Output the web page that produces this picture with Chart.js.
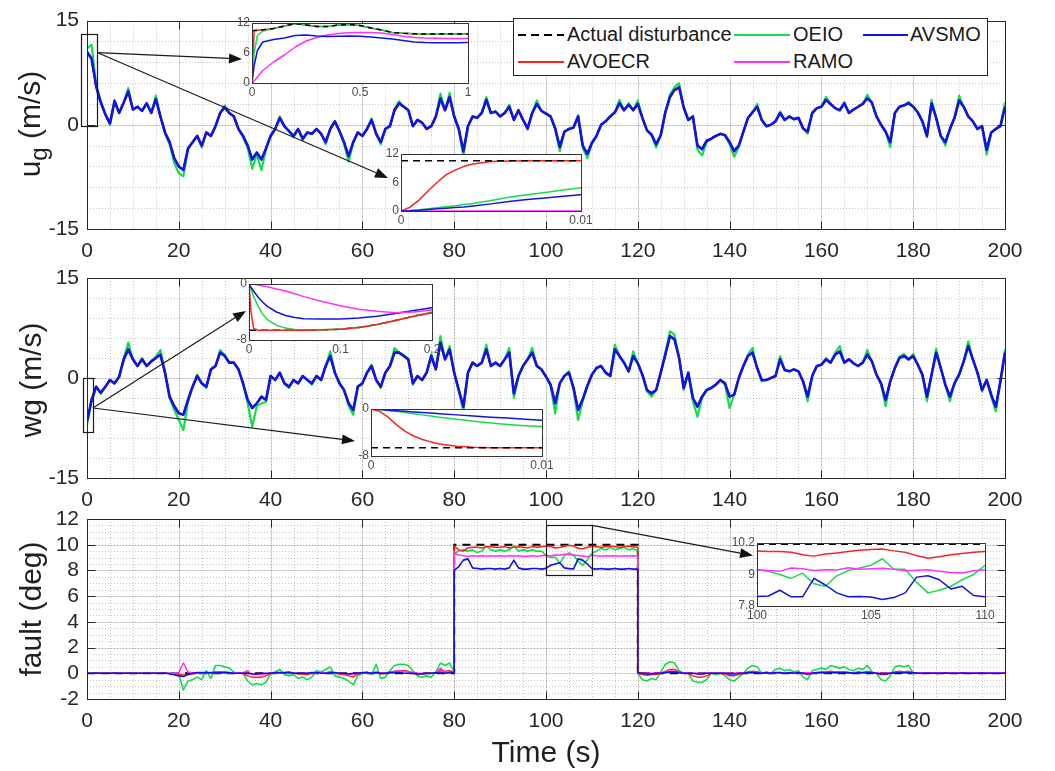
<!DOCTYPE html>
<html>
<head>
<meta charset="utf-8">
<script src="https://cdn.jsdelivr.net/npm/chart.js@4.4.0/dist/chart.umd.min.js"></script>
<style>
  html, body { margin: 0; padding: 0; background: #fff; }
  #page { position: relative; width: 1055px; height: 771px; overflow: hidden;
          font-family: "Liberation Sans", Arial, Helvetica, sans-serif; color: #1f1f1f; }
  #page canvas { position: absolute; left: 0; top: 0; }
  .title { position: absolute; width: 240px; height: 36px; line-height: 36px; text-align: center;
           font-size: 30px; white-space: nowrap; }
  .title.rot { transform: rotate(-90deg); }
  .title sub { font-size: 24px; vertical-align: -7px; line-height: 0; }
  #legend { position: absolute; left: 513px; top: 18px; width: 473px; height: 56px;
            border: 1px solid #262626; background: #fff; }
  #legend .sw { position: absolute; height: 2px; }
  #legend .lbl { position: absolute; font-size: 20px; line-height: 24px; white-space: nowrap; color: #1a1a1a; }
</style>
</head>
<body>
<div id="page">
  <canvas id="cUg" width="1055" height="771"></canvas>
  <canvas id="cWg" width="1055" height="771"></canvas>
  <canvas id="cFault" width="1055" height="771"></canvas>
  <canvas id="cUgZoom" width="1055" height="771"></canvas>
  <canvas id="cUgStart" width="1055" height="771"></canvas>
  <canvas id="cWgZoom" width="1055" height="771"></canvas>
  <canvas id="cWgStart" width="1055" height="771"></canvas>
  <canvas id="cFaultZoom" width="1055" height="771"></canvas>
  <canvas id="overlay" width="1055" height="771"></canvas>

  <div class="title rot" style="left:-90px; top:106px;">u<sub>g</sub> (m/s)</div>
  <div class="title rot" style="left:-89px; top:362px;">wg (m/s)</div>
  <div class="title rot" style="left:-89px; top:591px;">fault (deg)</div>
  <div class="title" style="left:426px; top:734px;">Time (s)</div>

  <div id="legend">
    <div class="sw" style="left:4px; top:15px; width:46px; background:repeating-linear-gradient(to right,#000 0 8px,transparent 8px 13px);"></div>
    <div class="lbl" style="left:53px; top:3px;">Actual disturbance</div>
    <div class="sw" style="left:220px; top:15px; width:56px; background:#17dc4a;"></div>
    <div class="lbl" style="left:279px; top:3px;">OEIO</div>
    <div class="sw" style="left:349px; top:15px; width:45px; background:#1212e6;"></div>
    <div class="lbl" style="left:396px; top:3px;">AVSMO</div>
    <div class="sw" style="left:4px; top:42px; width:46px; background:#ff2020;"></div>
    <div class="lbl" style="left:53px; top:30px;">AVOECR</div>
    <div class="sw" style="left:220px; top:42px; width:56px; background:#ff30ff;"></div>
    <div class="lbl" style="left:279px; top:30px;">RAMO</div>
  </div>
</div>

<script>
// ---------------- data ----------------
const timeTicks = [0, 20, 40, 60, 80, 100, 120, 140, 160, 180, 200];
const windTicks = [-15, 0, 15];
const faultTicks = [-2, 0, 2, 4, 6, 8, 10, 12];

// main time grid, one sample per second (0..200 s)
const mainTime = Array.from({ length: 201 }, (_, i) => i);

// u_g: disturbance (the observers follow it closely at this scale)
const ugActual = [
  10.5, 9.5, 5.5, 3.2, 1.5, 0.2, 3.4, 1.7, 3.2, 4.8,
  2.2, 2.6, 2.0, 3.1, 1.7, 3.7, 1.2, -1.1, -2.5, -4.8,
  -6.0, -6.5, -3.4, -2.5, -1.6, -3.0, -1.1, -1.6, -0.2, 1.7,
  2.5, 1.7, 1.2, -0.6, -1.6, -3.0, -5.0, -4.0, -5.0, -3.4,
  -1.6, -0.6, 1.0, -0.2, -0.9, -1.6, -0.6, -2.0, -1.1, -1.3,
  -0.6, -1.3, -2.5, -0.6, 0.5, -0.9, -2.5, -4.5, -2.5, -1.1,
  -1.6, -0.6, 0.7, -1.3, -2.5, -0.6, -0.2, 2.1, 3.1, 2.6,
  2.1, -0.2, 0.7, 0.3, -0.6, -0.2, 1.2, 3.8, 2.1, 4.0,
  1.2, -0.6, -3.8, -0.2, 1.2, 1.0, 1.7, 3.6, 1.7, 1.9,
  1.2, 1.7, 2.6, 0.7, 2.1, 0.7, -0.5, 1.7, 3.0, 2.0,
  1.6, 1.2, -0.5, -3.2, -1.0, -0.6, -0.4, 1.2, -3.0, -4.2,
  -2.6, -1.6, 0.0, 0.5, 1.2, 1.8, 3.1, 2.1, 2.9, 2.1,
  3.0, 1.0, -0.8, -1.4, -2.8, -1.5, 1.8, 4.0, 5.0, 5.4,
  2.5, 0.7, 1.2, -3.0, -3.5, -2.3, -2.0, -1.6, -1.3, -1.5,
  -2.5, -3.8, -3.0, -1.0, 1.0, 1.8, 2.6, 0.7, -0.2, 0.0,
  0.5, 1.7, 0.7, 1.2, 0.8, 1.0, -0.5, -1.0, 1.7, 2.4,
  2.6, 3.6, 3.0, 2.4, 2.1, 3.1, 1.7, 2.2, 2.6, 3.0,
  3.8, 3.2, 1.2, 0.0, -1.0, -2.5, 1.7, 2.6, 2.8, 3.1,
  2.6, 1.8, 0.5, -1.6, 3.1, 1.0, -1.6, -2.5, -0.6, 1.0,
  3.5, 2.6, 1.2, 0.5, -0.6, -0.2, -3.6, -1.1, -0.6, -0.2,
  2.6
];
// u_g: OEIO estimate (overshoots at the peaks)
const ugOeio = [
  11.0, 11.5, 5.8, 3.4, 1.5, 0.0, 3.6, 1.7, 3.2, 5.3,
  2.2, 2.6, 2.0, 3.1, 1.7, 4.2, 1.2, -1.3, -2.8, -5.5,
  -7.0, -7.4, -3.6, -2.5, -1.6, -3.3, -1.1, -1.6, -0.2, 1.7,
  2.8, 1.7, 1.2, -0.6, -1.8, -3.3, -6.3, -4.3, -6.5, -3.6,
  -1.6, -0.6, 1.2, -0.2, -0.9, -1.8, -0.6, -2.2, -1.1, -1.3,
  -0.6, -1.3, -2.8, -0.6, 0.5, -0.9, -2.8, -5.3, -2.6, -1.1,
  -1.6, -0.6, 0.9, -1.3, -2.8, -0.6, -0.2, 2.3, 3.4, 2.6,
  2.1, -0.2, 0.7, 0.3, -0.6, -0.2, 1.2, 4.5, 2.1, 4.6,
  1.2, -0.8, -4.5, -0.2, 1.2, 1.0, 1.7, 4.0, 1.7, 1.9,
  1.2, 1.7, 2.9, 0.7, 2.1, 0.7, -0.7, 1.7, 3.5, 2.0,
  1.6, 1.2, -0.7, -3.8, -1.0, -0.6, -0.4, 1.4, -3.3, -4.8,
  -2.8, -1.6, 0.0, 0.5, 1.2, 1.8, 3.6, 2.1, 3.1, 2.1,
  3.5, 1.0, -0.8, -1.6, -3.3, -1.5, 1.8, 4.3, 5.4, 6.0,
  2.5, 0.7, 1.2, -3.6, -4.4, -2.5, -2.0, -1.6, -1.3, -1.5,
  -2.8, -4.6, -3.2, -1.0, 1.0, 1.8, 3.0, 0.7, -0.2, 0.0,
  0.5, 1.9, 0.7, 1.2, 0.8, 1.0, -0.5, -1.3, 1.7, 2.4,
  2.6, 4.0, 3.0, 2.4, 2.1, 3.3, 1.7, 2.2, 2.6, 3.0,
  4.3, 3.2, 1.2, 0.0, -1.0, -3.2, 1.7, 2.6, 2.8, 3.3,
  2.6, 1.8, 0.5, -1.8, 3.6, 1.0, -1.6, -3.0, -0.6, 1.0,
  4.2, 2.6, 1.2, 0.5, -0.6, -0.2, -4.3, -1.1, -0.6, -0.2,
  3.2
];

// wg: disturbance
const wgActual = [
  -6.5, -3.3, -1.3, -2.2, -1.3, -0.3, -0.8, 0.2, 2.8, 4.3,
  2.8, 1.8, 2.8, 1.8, 2.5, 3.0, 3.5, 0.8, -2.8, -4.2,
  -5.3, -5.5, -3.3, -1.3, 0.3, -0.8, -1.3, 1.3, 1.8, 3.8,
  3.3, 2.3, 2.3, 1.3, -0.8, -3.3, -4.5, -3.8, -2.8, -3.3,
  0.3, -0.3, 0.8, -0.8, -1.3, -0.3, -0.8, 0.3, -0.3, -0.8,
  0.3, -0.3, 1.8, 3.3, 0.8, -0.8, -1.8, -3.8, -4.8, -1.3,
  -0.8, 0.8, 1.8, -0.3, -1.3, 0.8, 1.8, 3.8, 3.8, 3.3,
  2.8, -0.8, 0.3, -0.3, 0.8, 3.3, 1.3, 5.3, 2.8, 4.3,
  0.8, -1.8, -4.3, 0.8, 2.3, 1.8, 2.3, 4.3, 1.8, 2.3,
  1.8, 2.8, 3.8, -2.3, 0.3, 1.8, 2.8, 3.8, 1.8, 1.3,
  0.2, -1.0, -3.8, -0.8, 0.3, 0.8, -1.5, -4.8, -3.2, -1.2,
  0.5, 1.5, 1.8, 0.8, 0.3, 4.3, 3.3, 2.3, 1.0, 3.3,
  2.2, 0.5, -1.8, -2.3, -1.8, 0.8, 3.5, 6.3, 5.8, 3.0,
  -1.5, 0.8, -3.0, -4.3, -2.8, -1.8, -1.5, -1.0, -0.3, -0.8,
  -2.8, -2.5, 0.0, 1.8, 3.3, 3.8, 1.5, -0.3, -0.3, 0.0,
  0.3, 2.8, 1.2, 1.0, 1.3, 1.0, -0.5, -2.8, 0.3, 1.8,
  2.0, 2.8, 2.3, 3.5, 4.0, 2.3, 2.8, 2.2, 1.8, 2.3,
  3.5, 2.5, 0.5, -0.8, -3.3, -0.5, 1.5, 3.0, 3.3, 2.8,
  3.3, 2.0, 0.5, -2.8, 0.5, 3.8, 1.5, -1.0, -2.8, -0.8,
  0.5, 2.5, 4.8, 2.8, 0.8, -1.8, -0.3, -2.5, -4.3, -0.5,
  3.8
];
// wg: OEIO estimate
const wgOeio = [
  -7.0, -3.5, -1.3, -2.4, -1.3, -0.3, -0.8, 0.2, 3.0, 5.3,
  2.8, 1.8, 3.0, 1.8, 2.5, 3.2, 4.2, 0.8, -3.0, -4.8,
  -6.3, -7.8, -3.6, -1.3, 0.5, -0.8, -1.5, 1.3, 1.8, 4.2,
  3.5, 2.3, 2.3, 1.3, -0.8, -3.8, -7.3, -4.2, -3.8, -3.6,
  0.3, -0.3, 0.8, -0.8, -1.5, -0.3, -0.8, 0.3, -0.3, -1.0,
  0.3, -0.3, 1.8, 4.0, 0.8, -0.8, -1.8, -4.2, -5.5, -1.3,
  -0.8, 0.8, 2.0, -0.3, -1.5, 0.8, 1.8, 4.5, 3.8, 3.5,
  2.8, -1.0, 0.3, -0.3, 0.8, 3.6, 1.3, 6.3, 2.8, 4.8,
  0.8, -2.0, -5.0, 0.8, 2.3, 1.8, 2.3, 5.0, 1.8, 2.3,
  1.8, 2.8, 4.5, -3.0, 0.3, 1.8, 2.8, 4.5, 1.8, 1.3,
  0.2, -1.2, -5.3, -0.8, 0.3, 1.0, -1.8, -6.3, -3.5, -1.2,
  0.5, 1.5, 1.8, 0.8, 0.3, 5.0, 3.3, 2.3, 1.0, 4.0,
  2.2, 0.5, -2.0, -2.8, -1.8, 0.8, 3.8, 7.0, 6.5, 3.0,
  -1.8, 0.8, -3.5, -5.8, -3.0, -1.8, -1.5, -1.0, -0.3, -1.0,
  -4.5, -2.5, 0.0, 1.8, 3.5, 4.5, 1.5, -0.5, -0.3, 0.0,
  0.3, 3.3, 1.2, 1.0, 1.3, 1.0, -0.5, -3.5, 0.3, 1.8,
  2.0, 3.0, 2.3, 3.8, 4.8, 2.3, 2.8, 2.2, 1.8, 2.3,
  4.2, 2.5, 0.5, -1.0, -4.2, -0.5, 1.5, 3.2, 3.6, 2.8,
  3.6, 2.0, 0.5, -3.5, 0.5, 4.4, 1.5, -1.0, -3.5, -0.8,
  0.5, 2.5, 5.5, 2.8, 0.8, -2.0, -0.3, -2.8, -5.0, -0.5,
  4.3
];

// fault: three segments 0-80 s, 80-120 s, 120-200 s (the steps are vertical)
const faultSegments = [[0, 80], [80, 120], [120, 200]];
const faultActual = [
  0,0,0,0,0,0,0,0,0,0, 0,0,0,0,0,0,0,0,0,0, 0,0,0,0,0,0,0,0,0,0, 0,0,0,0,0,0,0,0,0,0,
  0,0,0,0,0,0,0,0,0,0, 0,0,0,0,0,0,0,0,0,0, 0,0,0,0,0,0,0,0,0,0, 0,0,0,0,0,0,0,0,0,0, 0,
  10,10,10,10,10,10,10,10,10,10, 10,10,10,10,10,10,10,10,10,10, 10,10,10,10,10,10,10,10,10,10,
  10,10,10,10,10,10,10,10,10,10, 10,
  0,0,0,0,0,0,0,0,0,0, 0,0,0,0,0,0,0,0,0,0, 0,0,0,0,0,0,0,0,0,0, 0,0,0,0,0,0,0,0,0,0,
  0,0,0,0,0,0,0,0,0,0, 0,0,0,0,0,0,0,0,0,0, 0,0,0,0,0,0,0,0,0,0, 0,0,0,0,0,0,0,0,0,0, 0
];
const faultOeio = [
  0,0,0,0,0,0,0,0,0,0, 0,0,0,0,0,0,0,0,0,0,
  -0.1,-1.3,-0.6,-0.5,-0.3,-0.5,0.2,-0.4,0.6,0.6,
  0.5,0.4,0.1,0,0,-0.6,-0.9,-0.8,-0.9,-0.7,
  0,0.1,0.3,-0.1,-0.2,-0.1,-0.4,-0.3,-0.5,-0.3,
  0.2,0.1,0.3,0.5,-0.2,-0.3,-0.4,-0.6,-0.9,-0.2,
  0,0.1,-0.1,0.7,-0.4,-0.3,0.2,0.6,0.7,0.7,
  0.6,0.2,-0.2,-0.3,-0.2,-0.3,0.1,0.8,0.6,0.8,
  0.1,
  9.3,9.5,9.6,9.5,9.6,9.4,9.5,9.9,9.6,9.5,
  9.6,9.5,9.6,9.9,9.5,9.6,9.5,9.6,9.5,9.5,
  9.18,9.0,9.05,8.55,9.15,9.35,9.2,8.7,8.4,8.8,
  9.35,9.5,9.7,9.6,9.8,9.6,9.7,9.8,9.6,9.7,
  9.5,
  0,-0.5,-0.6,-0.4,-0.5,0.1,0.7,0.9,0.8,0.2,
  0,0,-0.6,-0.7,-0.7,-0.5,0,-0.1,0,-0.2,
  -0.5,-0.6,-0.3,0,0.4,0.6,0.5,0,0.1,0,
  0.3,0.4,0.2,0.3,0.1,0.2,-0.3,-0.5,0.2,0.3,
  0.4,0.3,0.6,0.5,0.4,0.5,0.3,0.2,0.4,0.3,
  0.6,0.1,0,-0.5,-0.6,-0.2,0.5,0.6,0.5,0.6,
  0,0,0,0,0,0,0,0,0,0, 0,0,0,0,0,0,0,0,0,0,
  0
];
const faultAvsmo = [
  0,0,0.02,0,0,0,0.02,0,0,0,
  0,0,0,0.02,0,0,0,0.02,-0.05,-0.12,
  -0.2,-0.25,-0.1,0,0.05,0.05,0.05,0.05,0.05,0.05,
  0.05,0.05,0,0,0,0,-0.05,-0.05,0,0,
  0,0.05,0.05,0.05,0.1,0,0,0,0,0.05,
  0.05,0,0,0.05,0.05,0,0,-0.05,0,0,
  0.05,0.05,0,0.05,0,0,0.05,0.05,0.05,0,
  0,0,-0.05,-0.05,0,0,0.05,0,0,0.05,
  0.05,
  8.0,8.3,8.8,8.9,8.2,8.15,8.1,8.15,8.15,8.1,
  8.15,8.1,8.2,8.8,8.2,8.1,8.1,8.15,8.15,8.1,
  8.16,8.4,8.5,8.6,8.2,8.14,8.12,8.9,8.8,8.5,
  8.15,8.1,8.15,8.1,8.1,8.15,8.1,8.1,8.15,8.1,
  8.1,
  0.05,0,-0.05,-0.05,0,0,0.05,0.1,0.1,0.05,
  0,0,0,-0.05,-0.05,0,0,0,0,0,
  -0.05,-0.05,0,0,0.05,0.05,0.05,0,0.05,0,
  0.05,0.05,0,0.05,0,0.05,0,-0.05,0,0.05,
  0.05,0.05,0.05,0.05,0.05,0.05,0.05,0,0.05,0.05,
  0.05,0.05,0,-0.05,-0.05,0,0.05,0.05,0.05,0.05,
  0.05,0,0,0.02,0,0,0,0.02,0,0,
  0,0.02,0,0,0,0.02,0,0,0,0,
  0
];
const faultAvoecr = [
  0,0,0,0,0,0,0,0,0,0,
  0,0,0,0,0,0,0,0,0,-0.05,
  -0.1,-0.15,-0.1,-0.05,0,0,0.05,0,0.1,0.1,
  0.1,0.05,0,0,0,-0.2,-0.3,-0.3,-0.3,-0.2,
  0,0,0.05,0,0,0,-0.05,-0.05,-0.1,0,
  0.05,0.05,0.05,0.1,0,-0.05,-0.1,-0.2,-0.3,-0.05,
  0,0,0,0.1,-0.05,0,0.05,0.15,0.2,0.2,
  0.15,0.05,-0.05,-0.05,0,0,0,0.2,0.15,0.2,
  0.1,
  9.9,9.6,9.5,9.75,9.8,9.8,9.75,9.85,9.85,9.8,
  9.8,9.85,9.75,9.8,9.85,9.8,9.75,9.85,9.8,9.85,
  9.88,9.88,9.75,9.78,9.88,9.95,9.9,9.72,9.68,9.8,
  9.88,9.85,9.8,9.85,9.9,9.85,9.8,9.85,9.9,9.85,
  9.8,
  0,-0.1,-0.15,-0.1,-0.1,0,0.15,0.3,0.3,0.1,
  0,0,-0.2,-0.3,-0.3,-0.2,0,0,0,-0.05,
  -0.2,-0.2,-0.1,0,0.1,0.15,0.1,0,0,0,
  0.05,0.05,0,0.05,0,0.05,0,-0.1,0,0.05,
  0.1,0.1,0.15,0.1,0.1,0.1,0.05,0.05,0.1,0.05,
  0.15,0.05,0,-0.1,-0.1,0,0.1,0.15,0.1,0.15,
  0,0,0,0,0,0,0,0,0,0, 0,0,0,0,0,0,0,0,0,0,
  0
];
const faultRamo = [
  0,0,0,0,0,0,0,0,0,0, 0,0,0,0,0,0,0,0,0,0,
  0.05,0.8,0.1,0.05,0.05,0.05,0.05,0.05,0.05,0.05,
  0.05,0.05,0.05,0.05,0.05,0.2,-0.1,-0.1,-0.1,-0.05,
  0.05,0.05,0.05,0.05,0.05,0.05,0,0,0,0.05,
  0.05,0.05,0.05,0.05,0.05,0,0,-0.05,-0.1,0,
  0.05,0.05,0.05,0.05,0.05,0.05,0.1,0.15,0.15,0.15,
  0.1,0.05,0,0,0,0,0.05,0.4,0.1,0.1,
  0.1,
  9.3,9.2,9.15,9.1,9.15,9.1,9.15,9.1,9.15,9.1,
  9.15,9.1,9.15,9.1,9.15,9.1,9.1,9.15,9.1,9.15,
  9.18,9.12,9.22,9.18,9.26,9.22,9.2,9.16,9.12,9.06,
  9.18,9.15,9.1,9.15,9.12,9.15,9.1,9.15,9.12,9.15,
  9.1,
  0.05,0,0,0,0.05,0.05,0.1,0.15,0.15,0.1,
  0.05,0.05,0,0,0,0,0.05,0.05,0.05,0.05,
  0,0,0.05,0.05,0.05,0.1,0.1,0.05,0.05,0.05,
  0.05,0.05,0.05,0.05,0.05,0.05,0.05,0.05,0.05,0.05,
  0.05,0.05,0.1,0.1,0.05,0.1,0.05,0.05,0.05,0.05,
  0.1,0.05,0.05,0,0,0.05,0.05,0.1,0.1,0.1,
  0.05,0.05,0.05,0.05,0.05,0.05,0.05,0.05,0.05,0.05,
  0.05,0.05,0.05,0.05,0.05,0.05,0.05,0.05,0.05,0.05,
  0.05
];

// zoom 1: u_g, 0-1 s
const ugZoomT = [0, 0.01, 0.025, 0.05, 0.1, 0.15, 0.2, 0.25, 0.3, 0.35, 0.4, 0.45, 0.5, 0.55, 0.6, 0.65, 0.7, 0.75, 0.8, 0.85, 0.9, 0.95, 1];
const ugZoomXTicks = [0, 0.5, 1];
const ugZoomYTicks = [0, 6, 12];
const ugZoomActual = [10.5, 10.5, 10.55, 10.65, 10.9, 11.4, 11.9, 11.6, 11.3, 11.3, 11.6, 11.7, 11.5, 11.0, 10.6, 10.1, 9.95, 9.85, 9.8, 9.8, 9.85, 9.8, 9.8];
const ugZoomOeio   = [0, 6.0, 9.5, 10.4, 10.9, 11.4, 11.85, 11.6, 11.3, 11.3, 11.6, 11.7, 11.5, 11.0, 10.6, 10.1, 9.95, 9.85, 9.8, 9.8, 9.85, 9.8, 9.8];
const ugZoomAvoecr = [0, 10.45, 10.55, 10.65, 10.9, 11.4, 11.9, 11.6, 11.3, 11.3, 11.6, 11.7, 11.5, 11.0, 10.6, 10.1, 9.95, 9.85, 9.8, 9.8, 9.85, 9.8, 9.8];
const ugZoomRamo   = [0, 0.4, 1.2, 2.5, 4.2, 5.6, 7.2, 8.4, 9.1, 9.6, 9.9, 10.05, 10.1, 10.1, 10.0, 9.7, 9.35, 9.1, 9.0, 8.95, 8.9, 8.9, 8.9];
const ugZoomAvsmo  = [0, 3.5, 6.5, 8.2, 8.7, 9.0, 9.5, 9.6, 9.4, 9.3, 9.35, 9.4, 9.35, 9.2, 9.0, 8.8, 8.5, 8.2, 8.1, 8.05, 8.05, 8.05, 8.1];

// zoom 2 and 4: first 0.01 s
const startT = [0, 0.0005, 0.001, 0.0015, 0.002, 0.0025, 0.003, 0.0035, 0.004, 0.005, 0.006, 0.007, 0.008, 0.009, 0.01];
const startXTicks = [0, 0.01];
const ugStartActual = [10.6, 10.6, 10.6, 10.6, 10.6, 10.6, 10.6, 10.6, 10.6, 10.6, 10.6, 10.6, 10.6, 10.6, 10.6];
const ugStartAvoecr = [0, 0.8, 2.3, 4.2, 6.0, 7.6, 8.6, 9.4, 9.9, 10.4, 10.55, 10.6, 10.6, 10.6, 10.6];
const ugStartOeio   = [0, 0.1, 0.25, 0.45, 0.7, 0.9, 1.1, 1.35, 1.6, 2.2, 2.9, 3.4, 3.9, 4.4, 4.9];
const ugStartAvsmo  = [0, 0.05, 0.15, 0.3, 0.45, 0.6, 0.75, 0.85, 1.05, 1.5, 2.0, 2.4, 2.75, 3.1, 3.4];
const ugStartRamo   = [0, 0, 0, 0, 0, 0, 0, 0, 0, 0, 0, 0, 0, 0, 0];

// zoom 3: wg, 0-0.2 s
const wgZoomT = [0, 0.002, 0.005, 0.01, 0.015, 0.02, 0.03, 0.04, 0.05, 0.06, 0.08, 0.1, 0.12, 0.14, 0.16, 0.18, 0.2];
const wgZoomXTicks = [0, 0.1, 0.2];
const wgYTicksZoom = [-8, 0];
const wgZoomActual = [-6.6, -6.6, -6.6, -6.6, -6.6, -6.6, -6.6, -6.6, -6.6, -6.6, -6.55, -6.45, -6.2, -5.8, -5.2, -4.6, -4.1];
const wgZoomAvoecr = [0, -3.8, -6.35, -6.6, -6.6, -6.6, -6.6, -6.6, -6.6, -6.6, -6.55, -6.45, -6.2, -5.8, -5.2, -4.6, -4.1];
const wgZoomOeio   = [0, -0.6, -1.8, -3.2, -4.3, -5.1, -5.9, -6.3, -6.5, -6.55, -6.55, -6.45, -6.2, -5.8, -5.2, -4.6, -4.0];
const wgZoomAvsmo  = [0, -0.4, -1.0, -1.9, -2.6, -3.2, -4.0, -4.5, -4.8, -4.95, -5.0, -5.0, -4.85, -4.6, -4.2, -3.8, -3.4];
const wgZoomRamo   = [0, -0.02, -0.05, -0.15, -0.3, -0.4, -0.7, -1.0, -1.4, -1.8, -2.5, -3.1, -3.6, -3.9, -4.1, -4.0, -3.7];

// zoom 4: wg, 0-0.01 s
const wgStartActual = [-6.6, -6.6, -6.6, -6.6, -6.6, -6.6, -6.6, -6.6, -6.6, -6.6, -6.6, -6.6, -6.6, -6.6, -6.6];
const wgStartAvoecr = [0, -0.4, -1.4, -2.7, -3.8, -4.6, -5.2, -5.6, -5.95, -6.35, -6.5, -6.58, -6.6, -6.6, -6.6];
const wgStartOeio   = [0, -0.1, -0.25, -0.4, -0.6, -0.8, -1.0, -1.2, -1.4, -1.75, -2.1, -2.4, -2.65, -2.85, -3.0];
const wgStartAvsmo  = [0, -0.1, -0.2, -0.3, -0.4, -0.5, -0.6, -0.7, -0.8, -1.0, -1.2, -1.4, -1.55, -1.75, -1.9];
const wgStartRamo   = [0, 0, 0, 0, 0, 0, 0, 0, 0, 0, 0, 0, 0, 0, 0];

// zoom 5: fault, 100-110 s
const faultZoomT = [100, 100.5, 101, 101.5, 102, 102.5, 103, 103.5, 104, 104.5, 105, 105.5, 106, 106.5, 107, 107.5, 108, 108.5, 109, 109.5, 110];
const faultZoomXTicks = [100, 105, 110];
const faultZoomYTicks = [7.8, 9, 10.2];
const faultZoomActual = [10.15, 10.15, 10.15, 10.15, 10.15, 10.15, 10.15, 10.15, 10.15, 10.15, 10.15, 10.15, 10.15, 10.15, 10.15, 10.15, 10.15, 10.15, 10.15, 10.15, 10.15];
const faultZoomAvoecr = [9.9, 9.88, 9.88, 9.85, 9.75, 9.7, 9.78, 9.82, 9.88, 9.92, 9.95, 9.97, 9.9, 9.85, 9.72, 9.62, 9.68, 9.75, 9.8, 9.85, 9.88];
const faultZoomRamo   = [9.18, 9.15, 9.12, 9.25, 9.22, 9.15, 9.18, 9.17, 9.26, 9.2, 9.22, 9.24, 9.2, 9.14, 9.16, 9.18, 9.12, 9.08, 9.06, 9.14, 9.18];
const faultZoomOeio   = [9.18, 9.12, 9.0, 8.85, 9.05, 8.65, 8.55, 8.95, 9.15, 9.25, 9.35, 9.6, 9.2, 9.2, 8.7, 8.3, 8.4, 8.55, 8.8, 9.0, 9.35];
const faultZoomAvsmo  = [8.16, 8.18, 8.4, 8.15, 8.15, 8.85, 8.6, 8.3, 8.15, 8.16, 8.14, 8.05, 8.12, 8.3, 8.9, 8.95, 8.8, 8.45, 8.55, 8.2, 8.15];

// ---------------- layout / style ----------------
const FONT = '"Liberation Sans", Arial, Helvetica, sans-serif';
const INK = '#262626';
const C = { actual: '#000000', oeio: '#17dc4a', avsmo: '#1212e6', avoecr: '#ff2020', ramo: '#ff30ff' };
const PAGE_W = 1055, PAGE_H = 771;
const PLOT_L = 87, PLOT_R = 1005, X_AXIS_H = 33;
const INSET_Y_W = 30, INSET_X_H = 16;

const faultTime = [];
faultSegments.forEach(([a, b]) => { for (let t = a; t <= b; t++) faultTime.push(t); });

function pts(xs, ys) {
  if (xs.length !== ys.length) console.error('length mismatch', xs.length, ys.length);
  return ys.map((y, i) => ({ x: xs[i], y }));
}
function series(label, xs, ys, color, width, dash) {
  return { label, data: pts(xs, ys), borderColor: color, borderWidth: width, borderDash: dash || [],
           pointRadius: 0, tension: 0, fill: false, borderJoinStyle: 'round' };
}

function seg(ctx, x1, y1, x2, y2) { ctx.beginPath(); ctx.moveTo(x1, y1); ctx.lineTo(x2, y2); ctx.stroke(); }

// MATLAB-like box, grid and inward ticks
const matlabAxes = {
  id: 'matlabAxes',
  beforeDatasetsDraw(chart, _a, o) {
    const { ctx, chartArea: a, scales: { x, y } } = chart;
    ctx.save();
    ctx.lineWidth = 1;
    ctx.strokeStyle = 'rgba(0,0,0,0.22)';
    ctx.setLineDash([1, 2]);
    const nx = Math.round((x.max - x.min) / o.xMinor);
    for (let i = 1; i < nx; i++) {
      const p = Math.round(x.getPixelForValue(x.min + i * o.xMinor)) + 0.5;
      seg(ctx, p, a.top, p, a.bottom);
    }
    const ny = Math.round((y.max - y.min) / o.yMinor);
    for (let i = 1; i < ny; i++) {
      const p = Math.round(y.getPixelForValue(y.min + i * o.yMinor)) + 0.5;
      seg(ctx, a.left, p, a.right, p);
    }
    ctx.setLineDash([]);
    ctx.strokeStyle = 'rgba(0,0,0,0.13)';
    x.ticks.forEach(t => { const p = Math.round(x.getPixelForValue(t.value)) + 0.5; seg(ctx, p, a.top, p, a.bottom); });
    y.ticks.forEach(t => { const p = Math.round(y.getPixelForValue(t.value)) + 0.5; seg(ctx, a.left, p, a.right, p); });
    ctx.restore();
  },
  afterDatasetsDraw(chart, _a, o) {
    const { ctx, chartArea: a, scales: { x, y } } = chart;
    ctx.save();
    ctx.strokeStyle = INK;
    ctx.lineWidth = 1;
    const L = Math.round(a.left) + 0.5, R = Math.round(a.right) + 0.5;
    const T = Math.round(a.top) + 0.5, B = Math.round(a.bottom) + 0.5;
    ctx.strokeRect(L, T, R - L, B - T);
    x.ticks.forEach(t => {
      const p = Math.round(x.getPixelForValue(t.value)) + 0.5;
      seg(ctx, p, B, p, B - o.tickLen); seg(ctx, p, T, p, T + o.tickLen);
    });
    y.ticks.forEach(t => {
      const p = Math.round(y.getPixelForValue(t.value)) + 0.5;
      seg(ctx, L, p, L + o.tickLen, p); seg(ctx, R, p, R - o.tickLen, p);
    });
    ctx.restore();
  }
};

const insetFrame = {
  id: 'insetFrame',
  beforeDraw(chart) {
    const { ctx, chartArea: a } = chart;
    ctx.save(); ctx.fillStyle = '#fff';
    ctx.fillRect(a.left, a.top, a.right - a.left, a.bottom - a.top);
    ctx.restore();
  },
  afterDatasetsDraw(chart) {
    const { ctx, chartArea: a } = chart;
    ctx.save(); ctx.strokeStyle = '#333'; ctx.lineWidth = 1;
    const L = Math.round(a.left) + 0.5, T = Math.round(a.top) + 0.5;
    ctx.strokeRect(L, T, Math.round(a.right) - Math.round(a.left), Math.round(a.bottom) - Math.round(a.top));
    ctx.restore();
  }
};

function tickOpts(size, color, pad) {
  return { font: { family: FONT, size }, color, padding: pad, maxRotation: 0, autoSkip: false, callback: v => String(v) };
}

// datasets are listed bottom-to-top; Chart.js paints the first one last, so reverse
function makePanel(id, top, bottom, yMin, yMax, yTicks, yMinor, datasets) {
  return new Chart(document.getElementById(id), {
    type: 'line',
    data: { datasets: datasets.slice().reverse() },
    options: {
      responsive: false, animation: false, events: [],
      layout: { padding: { left: 0, right: PAGE_W - PLOT_R, top, bottom: PAGE_H - bottom - X_AXIS_H } },
      plugins: { legend: { display: false }, tooltip: { enabled: false },
                 matlabAxes: { xMinor: 5, yMinor, tickLen: 8 } },
      scales: {
        x: { type: 'linear', min: 0, max: 200,
             afterBuildTicks: s => { s.ticks = timeTicks.map(v => ({ value: v })); },
             afterFit: s => { s.height = X_AXIS_H; },
             grid: { display: false, drawTicks: false }, border: { display: false },
             ticks: tickOpts(21, INK, 10) },
        y: { type: 'linear', min: yMin, max: yMax,
             afterBuildTicks: s => { s.ticks = yTicks.map(v => ({ value: v })); },
             afterFit: s => { s.width = PLOT_L; },
             grid: { display: false, drawTicks: false }, border: { display: false },
             ticks: tickOpts(21, INK, 8) }
      }
    },
    plugins: [matlabAxes]
  });
}

function makeInset(id, box, xMin, xMax, xTicks, yMin, yMax, yTicks, datasets) {
  return new Chart(document.getElementById(id), {
    type: 'line',
    data: { datasets: datasets.slice().reverse() },
    options: {
      responsive: false, animation: false, events: [],
      layout: { padding: { left: box.l - INSET_Y_W, right: PAGE_W - box.r, top: box.t, bottom: PAGE_H - box.b - INSET_X_H } },
      plugins: { legend: { display: false }, tooltip: { enabled: false } },
      scales: {
        x: { type: 'linear', min: xMin, max: xMax,
             afterBuildTicks: s => { s.ticks = xTicks.map(v => ({ value: v })); },
             afterFit: s => { s.height = INSET_X_H; },
             grid: { display: false, drawTicks: false }, border: { display: false },
             ticks: tickOpts(12, '#4d4d4d', 2) },
        y: { type: 'linear', min: yMin, max: yMax,
             afterBuildTicks: s => { s.ticks = yTicks.map(v => ({ value: v })); },
             afterFit: s => { s.width = INSET_Y_W; },
             grid: { display: false, drawTicks: false }, border: { display: false },
             ticks: tickOpts(12, '#4d4d4d', 2) }
      }
    },
    plugins: [insetFrame]
  });
}

const DASH = [8, 6];

// ---------------- main panels ----------------
const ugChart = makePanel('cUg', 15, 229, -15, 15, windTicks, 3, [
  series('Actual disturbance', mainTime, ugActual, C.actual, 2, DASH),
  series('OEIO', mainTime, ugOeio, C.oeio, 2.2),
  series('AVOECR', mainTime, ugActual, C.avoecr, 1.5),
  series('RAMO', mainTime, ugActual, C.ramo, 1.5),
  series('AVSMO', mainTime, ugActual, C.avsmo, 2.6)
]);
const wgChart = makePanel('cWg', 278, 478, -15, 15, windTicks, 3, [
  series('Actual disturbance', mainTime, wgActual, C.actual, 2, DASH),
  series('OEIO', mainTime, wgOeio, C.oeio, 2.2),
  series('AVOECR', mainTime, wgActual, C.avoecr, 1.5),
  series('RAMO', mainTime, wgActual, C.ramo, 1.5),
  series('AVSMO', mainTime, wgActual, C.avsmo, 2.6)
]);
const faultChart = makePanel('cFault', 519, 699, -2, 12, faultTicks, 0.5, [
  series('Actual disturbance', faultTime, faultActual, C.actual, 2, DASH),
  series('OEIO', faultTime, faultOeio, C.oeio, 1.6),
  series('AVOECR', faultTime, faultAvoecr, C.avoecr, 1.5),
  series('RAMO', faultTime, faultRamo, C.ramo, 1.5),
  series('AVSMO', faultTime, faultAvsmo, C.avsmo, 1.6)
]);

// ---------------- insets ----------------
const insetBoxes = {
  ugZoom:    { l: 252, r: 468, t: 23, b: 83 },
  ugStart:   { l: 401, r: 581, t: 154, b: 211 },
  wgZoom:    { l: 249, r: 432, t: 284, b: 340 },
  wgStart:   { l: 371, r: 542, t: 409, b: 456 },
  faultZoom: { l: 757, r: 985, t: 543, b: 606 }
};

const ugZoomChart = makeInset('cUgZoom', insetBoxes.ugZoom, 0, 1, ugZoomXTicks, 0, 12, ugZoomYTicks, [
  series('AVOECR', ugZoomT, ugZoomAvoecr, C.avoecr, 1.5),
  series('OEIO', ugZoomT, ugZoomOeio, C.oeio, 1.5),
  series('RAMO', ugZoomT, ugZoomRamo, C.ramo, 1.5),
  series('AVSMO', ugZoomT, ugZoomAvsmo, C.avsmo, 1.5),
  series('Actual disturbance', ugZoomT, ugZoomActual, C.actual, 1.5, [5, 4])
]);
const ugStartChart = makeInset('cUgStart', insetBoxes.ugStart, 0, 0.01, startXTicks, 0, 12, ugZoomYTicks, [
  series('OEIO', startT, ugStartOeio, C.oeio, 1.5),
  series('AVOECR', startT, ugStartAvoecr, C.avoecr, 1.5),
  series('RAMO', startT, ugStartRamo, C.ramo, 1.5),
  series('AVSMO', startT, ugStartAvsmo, C.avsmo, 1.5),
  series('Actual disturbance', startT, ugStartActual, C.actual, 1.5, [7, 5])
]);
const wgZoomChart = makeInset('cWgZoom', insetBoxes.wgZoom, 0, 0.2, wgZoomXTicks, -8, 0, wgYTicksZoom, [
  series('Actual disturbance', wgZoomT, wgZoomActual, C.actual, 1.5, [7, 5]),
  series('OEIO', wgZoomT, wgZoomOeio, C.oeio, 1.5),
  series('AVSMO', wgZoomT, wgZoomAvsmo, C.avsmo, 1.5),
  series('RAMO', wgZoomT, wgZoomRamo, C.ramo, 1.5),
  series('AVOECR', wgZoomT, wgZoomAvoecr, C.avoecr, 1.5)
]);
const wgStartChart = makeInset('cWgStart', insetBoxes.wgStart, 0, 0.01, startXTicks, -8, 0, wgYTicksZoom, [
  series('OEIO', startT, wgStartOeio, C.oeio, 1.5),
  series('AVSMO', startT, wgStartAvsmo, C.avsmo, 1.5),
  series('RAMO', startT, wgStartRamo, C.ramo, 2),
  series('AVOECR', startT, wgStartAvoecr, C.avoecr, 1.5),
  series('Actual disturbance', startT, wgStartActual, C.actual, 1.5, [7, 5])
]);
const faultZoomChart = makeInset('cFaultZoom', insetBoxes.faultZoom, 100, 110, faultZoomXTicks, 7.8, 10.2, faultZoomYTicks, [
  series('OEIO', faultZoomT, faultZoomOeio, C.oeio, 1.5),
  series('AVOECR', faultZoomT, faultZoomAvoecr, C.avoecr, 1.5),
  series('RAMO', faultZoomT, faultZoomRamo, C.ramo, 1.5),
  series('AVSMO', faultZoomT, faultZoomAvsmo, C.avsmo, 1.5),
  series('Actual disturbance', faultZoomT, faultZoomActual, C.actual, 1.5, [7, 5])
]);

// ---------------- zoom boxes and arrows ----------------
const zoomLinks = [
  { chart: ugChart, x: [-1.3, 2.2], y: [-0.2, 13.1], from: [2.2, 10.4],
    to: [{ inset: ugZoomChart, gap: 10, frac: 0.6 }, { inset: ugStartChart, gap: 13, frac: 0.42 }] },
  { chart: wgChart, x: [-0.9, 1.3], y: [-8.1, 0], from: [1.3, -4.5],
    to: [{ inset: wgZoomChart, gap: 3, frac: 0.48 }, { inset: wgStartChart, gap: 16, frac: 0.68 }] },
  { chart: faultChart, x: [100, 110], y: [7.6, 11.5], from: [110, 11.5],
    to: [{ inset: faultZoomChart, gap: 4, frac: 0.2 }] }
];

function arrow(ctx, x1, y1, x2, y2) {
  const ang = Math.atan2(y2 - y1, x2 - x1), L = 13, W = 5;
  const bx = x2 - L * Math.cos(ang), by = y2 - L * Math.sin(ang);
  seg(ctx, x1, y1, bx, by);
  ctx.beginPath();
  ctx.moveTo(x2, y2);
  ctx.lineTo(bx + W * Math.sin(ang), by - W * Math.cos(ang));
  ctx.lineTo(bx - W * Math.sin(ang), by + W * Math.cos(ang));
  ctx.closePath();
  ctx.fill();
}

(function drawOverlay() {
  const ctx = document.getElementById('overlay').getContext('2d');
  ctx.strokeStyle = '#1a1a1a';
  ctx.fillStyle = '#111';
  ctx.lineWidth = 1.2;
  zoomLinks.forEach(link => {
    const { x, y } = link.chart.scales;
    const x1 = x.getPixelForValue(link.x[0]), x2 = x.getPixelForValue(link.x[1]);
    const y1 = y.getPixelForValue(link.y[1]), y2 = y.getPixelForValue(link.y[0]);
    ctx.strokeRect(Math.round(x1) + 0.5, Math.round(y1) + 0.5, Math.round(x2 - x1), Math.round(y2 - y1));
    const sx = x.getPixelForValue(link.from[0]), sy = y.getPixelForValue(link.from[1]);
    link.to.forEach(t => {
      const a = t.inset.chartArea;
      arrow(ctx, sx, sy, a.left - t.gap, a.top + t.frac * (a.bottom - a.top));
    });
  });
})();
</script>
</body>
</html>
